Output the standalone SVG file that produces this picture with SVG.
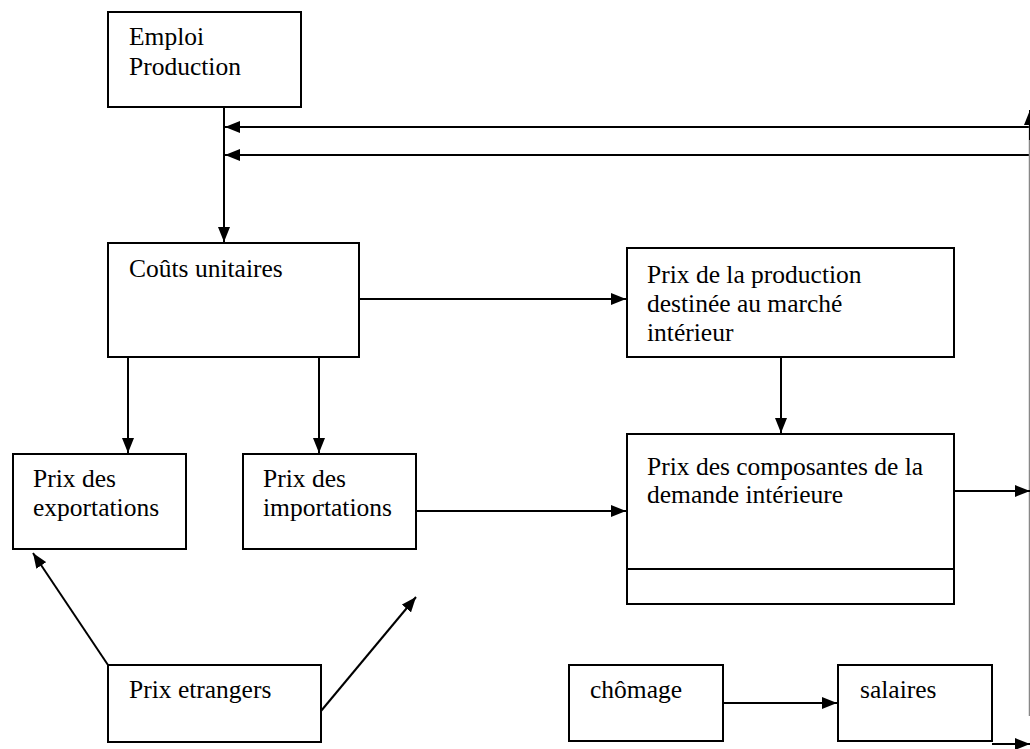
<svg xmlns="http://www.w3.org/2000/svg" width="1030" height="749" viewBox="0 0 1030 749">
<style>
.box{fill:#fff;stroke:#000;stroke-width:2}
.t{font-family:"Liberation Serif","Times New Roman",serif;font-size:25.5px;fill:#000}
.c{stroke:#000;stroke-width:2;fill:none}
</style>
<defs>
<marker id="a" markerUnits="userSpaceOnUse" markerWidth="16" markerHeight="12" refX="15" refY="6" orient="auto">
<path d="M0,0 L15,6 L0,12 z" fill="#000"/>
</marker>
</defs>
<rect width="1030" height="749" fill="#fff"/>
<g id="connectors">
<line class="c" x1="224" y1="107" x2="224" y2="242" marker-end="url(#a)"/>
<line class="c" x1="1029" y1="127" x2="225" y2="127" marker-end="url(#a)"/>
<line class="c" x1="1029" y1="155" x2="225" y2="155" marker-end="url(#a)"/>
<line x1="1029.5" y1="118" x2="1029.5" y2="716" stroke="#888" stroke-width="1.5"/>
<line class="c" x1="1030" y1="140" x2="1030" y2="110" marker-end="url(#a)"/>
<line class="c" x1="359" y1="299" x2="626" y2="299" marker-end="url(#a)"/>
<line class="c" x1="128" y1="357" x2="128" y2="453" marker-end="url(#a)"/>
<line class="c" x1="319" y1="357" x2="319" y2="453" marker-end="url(#a)"/>
<line class="c" x1="781" y1="357" x2="781" y2="433" marker-end="url(#a)"/>
<line class="c" x1="416" y1="511" x2="626" y2="511" marker-end="url(#a)"/>
<line class="c" x1="954" y1="491" x2="1030" y2="491" marker-end="url(#a)"/>
<line class="c" x1="108" y1="665" x2="33" y2="553" marker-end="url(#a)"/>
<line class="c" x1="321" y1="711" x2="416" y2="597" marker-end="url(#a)"/>
<line class="c" x1="723" y1="703" x2="837" y2="703" marker-end="url(#a)"/>
<line class="c" x1="992" y1="744" x2="1030" y2="744" marker-end="url(#a)"/>
</g>
<g id="emploi">
<rect class="box" x="108" y="12" width="193" height="95"/>
<text class="t" x="129" y="45">Emploi</text>
<text class="t" x="129" y="75">Production</text>
</g>
<g id="couts">
<rect class="box" x="108" y="243" width="251" height="114"/>
<text class="t" x="129" y="277">Coûts unitaires</text>
</g>
<g id="prixprod">
<rect class="box" x="627" y="248" width="327" height="109"/>
<text class="t" x="647" y="283">Prix de la production</text>
<text class="t" x="647" y="312">destinée au marché</text>
<text class="t" x="647" y="341">intérieur</text>
</g>
<g id="export">
<rect class="box" x="13" y="454" width="173" height="95"/>
<text class="t" x="33" y="487">Prix des</text>
<text class="t" x="33" y="516">exportations</text>
</g>
<g id="import">
<rect class="box" x="243" y="454" width="173" height="95"/>
<text class="t" x="263" y="487">Prix des</text>
<text class="t" x="263" y="516">importations</text>
</g>
<g id="composantes">
<rect class="box" x="627" y="434" width="327" height="170"/>
<line x1="627" y1="569" x2="954" y2="569" stroke="#000" stroke-width="2"/>
<text class="t" x="647" y="475">Prix des composantes de la</text>
<text class="t" x="647" y="503">demande intérieure</text>
</g>
<g id="etrangers">
<rect class="box" x="108" y="665" width="213" height="77"/>
<text class="t" x="129" y="698">Prix etrangers</text>
</g>
<g id="chomage">
<rect class="box" x="569" y="665" width="154" height="76"/>
<text class="t" x="590" y="698">chômage</text>
</g>
<g id="salaires">
<rect class="box" x="838" y="665" width="154" height="76"/>
<text class="t" x="860" y="698">salaires</text>
</g>
</svg>
